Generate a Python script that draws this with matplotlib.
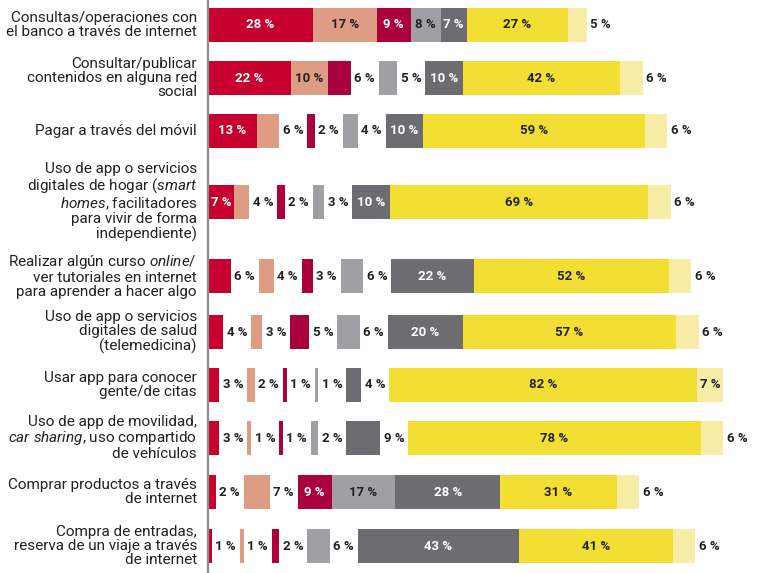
import numpy as np
import matplotlib
matplotlib.use("Agg")
import matplotlib.pyplot as plt

plt.rcParams['font.family'] = ['Roboto', 'DejaVu Sans']
plt.rcParams['mathtext.fontset'] = 'custom'
plt.rcParams['mathtext.rm'] = 'Roboto'
plt.rcParams['mathtext.it'] = 'Roboto:italic'

categorias = [
    "Consultas/operaciones con\nel banco a través de internet",
    "Consultar/publicar\ncontenidos en alguna red\nsocial",
    "Pagar a través del móvil",
    "Uso de app o servicios\ndigitales de hogar ($\\it{smart}$\n$\\it{homes}$, facilitadores\npara vivir de forma\nindependiente)",
    "Realizar algún curso $\\it{online}$/\nver tutoriales en internet\npara aprender a hacer algo",
    "Uso de app o servicios\ndigitales de salud\n(telemedicina)",
    "Usar app para conocer\ngente/de citas",
    "Uso de app de movilidad,\n$\\it{car\\ sharing}$, uso compartido\nde vehículos",
    "Comprar productos a través\nde internet",
    "Compra de entradas,\nreserva de un viaje a través\nde internet",
]

# seven answer groups, one value per row (percent)
serie_1 = [28, 22, 13, 7, 6, 4, 3, 3, 2, 1]
serie_2 = [17, 10, 6, 4, 4, 3, 2, 1, 7, 1]
serie_3 = [9, 6, 2, 2, 3, 5, 1, 1, 9, 2]
serie_4 = [8, 5, 4, 3, 6, 6, 1, 2, 17, 6]
serie_5 = [7, 10, 10, 10, 22, 20, 4, 9, 28, 43]
serie_6 = [27, 42, 59, 69, 52, 57, 82, 78, 31, 41]
serie_7 = [5, 6, 6, 6, 6, 6, 7, 6, 6, 6]

series = [serie_1, serie_2, serie_3, serie_4, serie_5, serie_6, serie_7]
colores = ['#C8002D', '#DE9C85', '#AA003C', '#A0A0A4', '#6D6C71', '#F3DF33', '#F8EDA6']
color_txt = ['white', '#222222', 'white', '#222222', 'white', '#222222', '#222222']

# layout (pixels)
W, H = 768, 573
x0 = 208
px_pct = 3.75
fila_y = [25, 78, 131, 202, 276, 332, 385, 438, 492, 546]
alto = 34
hueco = 28 / px_pct
fuera_extra = {(7, 4), (8, 1)}   # labels drawn outside although big

fig = plt.figure(figsize=(W / 100, H / 100), dpi=100)
ax = fig.add_axes([x0 / W, 0, (W - x0) / W, 1])
ax.set_xlim(0, (W - x0) / px_pct)
ax.set_ylim(H, 0)
for s in ['top', 'right', 'bottom']:
    ax.spines[s].set_visible(False)
ax.spines['left'].set_color('#8c8c8c')
ax.spines['left'].set_linewidth(1.6)
ax.set_xticks([])
ax.set_yticks([])

for i, y in enumerate(fila_y):
    x = 0.0
    for j, s in enumerate(series):
        v = s[i]
        ax.barh(y, v, left=x, height=alto, color=colores[j], linewidth=0)
        dentro = v >= 7 and (i, j) not in fuera_extra
        if dentro:
            ax.text(x + v / 2, y, f"{v} %", ha='center', va='center',
                    color=color_txt[j], fontsize=9.5, fontweight='bold')
            x += v
        else:
            x += v
            ax.text(x + hueco / 2, y, f"{v} %", ha='center', va='center',
                    color='#222222', fontsize=9.5, fontweight='bold')
            x += hueco
    ax.text(-11 / px_pct, y, categorias[i], ha='right', va='center',
            multialignment='right', fontsize=11, color='#222222',
            linespacing=1.01, clip_on=False)

fig.savefig('out.png', dpi=100)
